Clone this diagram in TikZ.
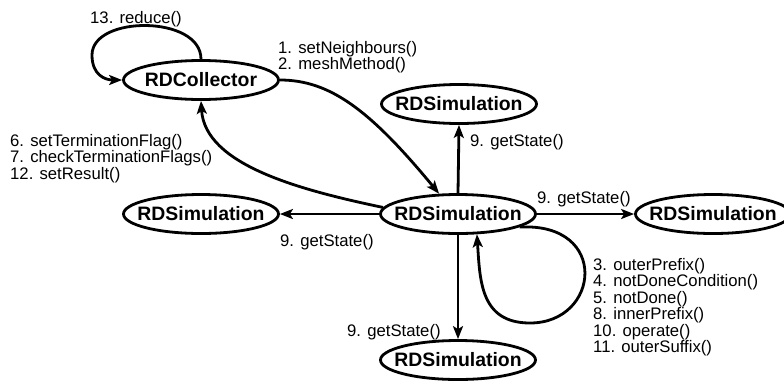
\documentclass[tikz,border=0pt]{standalone}
\usepackage{fontspec}
\setmainfont{Liberation Sans}
\usetikzlibrary{arrows.meta,shapes.geometric}
\begin{document}
\begin{tikzpicture}[x=1pt,y=-1pt,
  obj/.style={ellipse,draw,line width=2.8pt,inner sep=0pt,minimum width=155pt,minimum height=39pt,font=\fontsize{19.4}{20}\selectfont\bfseries},
  lbl/.style={anchor=base west,inner sep=0pt,font=\fontsize{16.7}{16.5}\selectfont},
  conn/.style={line width=2.8pt,-{Stealth[length=13pt,width=10pt,inset=3pt]}}]
\useasboundingbox (0,0) rectangle (784,384);
% objects
\node[obj] (coll) at (201,80) {\makebox[0pt]{RDCollector}};
\node[obj] (top) at (459,104) {\makebox[0pt]{RDSimulation}};
\node[obj] (c) at (458,214) {\makebox[0pt]{RDSimulation}};
\node[obj] (left) at (201,214) {\makebox[0pt]{RDSimulation}};
\node[obj] (right) at (713,214) {\makebox[0pt]{RDSimulation}};
\node[obj] (bot) at (458,360) {\makebox[0pt]{RDSimulation}};
% connectors
\draw[conn] (coll.north) .. controls (201,15) and (92,15) .. (92,55) .. controls (92,75) and (105,80) .. (coll.west);
\draw[conn] (coll.east) .. controls (330,80) and (370,110) .. (c.133);
\draw[conn] (c.175) .. controls (300,190) and (205,165) .. (coll.south);
\draw[conn] (c.north) -- (top.south);
\draw[conn] (c.east) -- (right.west);
\draw[conn] (c.west) -- (left.east);
\draw[conn] (c.south) -- (bot.north);
\draw[conn] (c.-12) .. controls (610,222) and (600,323) .. (530,323) .. controls (480,323) and (480,280) .. (c.-47);
% labels
\node[lbl] (l13) at (90,23) {13. reduce()};
\node[lbl] (l1) at (278,53) {1. setNeighbours()};
\node[lbl] (l2) at (278,69) {2. meshMethod()};
\node[lbl] (l6) at (10,146) {6. setTerminationFlag()};
\node[lbl] (l7) at (10,162.5) {7. checkTerminationFlags()};
\node[lbl] (l12) at (10,179) {12. setResult()};
\node[lbl] (gtop) at (470,146) {9. getState()};
\node[lbl] (gright) at (537,203) {9. getState()};
\node[lbl] (gleft) at (280,246) {9. getState()};
\node[lbl] (gbot) at (347,336) {9. getState()};
\node[lbl] (l3) at (593,270) {3. outerPrefix()};
\node[lbl] (l4) at (593,286.5) {4. notDoneCondition()};
\node[lbl] (l5) at (593,303) {5. notDone()};
\node[lbl] (l8) at (593,319.5) {8. innerPrefix()};
\node[lbl] (l10) at (593,336) {10. operate()};
\node[lbl] (l11) at (593,352.5) {11. outerSuffix()};
\end{tikzpicture}
\end{document}
